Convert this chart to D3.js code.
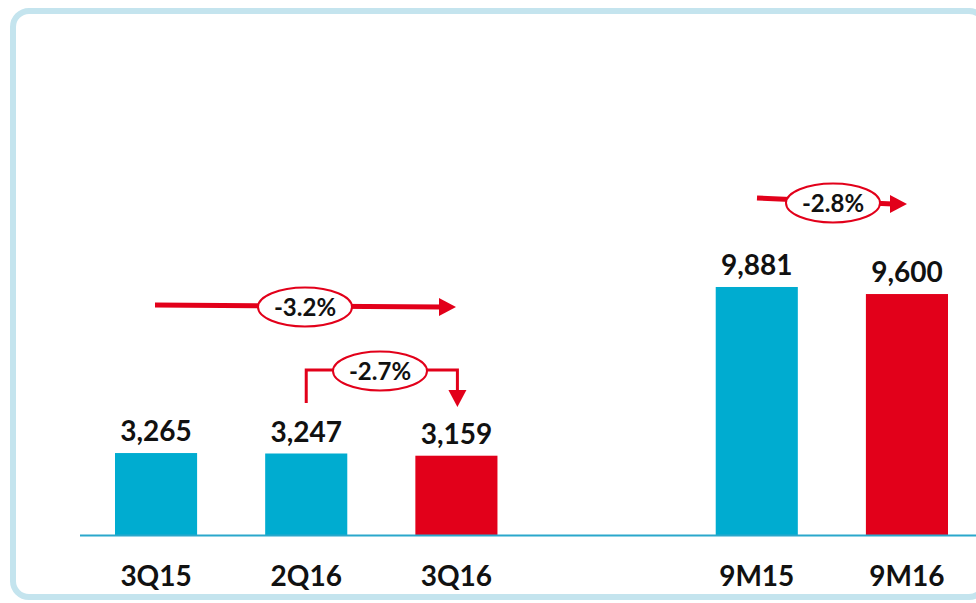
<!DOCTYPE html>
<html>
<head>
<meta charset="utf-8">
<script src="https://cdn.jsdelivr.net/npm/d3@7"></script>
<style>
  body { margin: 0; background: #fff; }
  svg { display: block; font-family: Lato, 'Open Sans', sans-serif; }
</style>
</head>
<body>
<svg id="chart" width="976" height="603"></svg>
<script>
// chart data
var categories = ['3Q15', '2Q16', '3Q16', '', '9M15', '9M16']
var values = [3265, 3247, 3159, null, 9881, 9600]
var labels = ['3,265', '3,247', '3,159', '', '9,881', '9,600']
var colors = ['#00acd0', '#00acd0', '#e2001a', null, '#00acd0', '#e2001a']
var changes = [
  {text: '-3.2%', from: '3Q15', to: '3Q16', kind: 'flat'},
  {text: '-2.7%', from: '2Q16', to: '3Q16', kind: 'elbow'},
  {text: '-2.8%', from: '9M15', to: '9M16', kind: 'flat'}
]

var svg = d3.select('#chart')
var red = '#e2001a'

// frame round the chart
svg.append('rect')
  .attr('x', 13).attr('y', 11)
  .attr('width', 972).attr('height', 586)
  .attr('rx', 16)
  .attr('fill', 'none')
  .attr('stroke', '#c4e4ee')
  .attr('stroke-width', 6)

// scales
var x = d3.scaleBand()
  .domain(categories)
  .range([115, 948])
  .paddingInner(0.4533)
  .paddingOuter(0)
var y = d3.scaleLinear()
  .domain([0, 20000])
  .range([535, 33])

var data = categories.map(function (c, i) {
  return {cat: c, value: values[i], label: labels[i], color: colors[i]}
}).filter(function (d) { return d.value !== null })

// bars
svg.append('g').selectAll('rect')
  .data(data)
  .enter().append('rect')
  .attr('x', (d) => x(d.cat))
  .attr('y', (d) => y(d.value))
  .attr('width', x.bandwidth())
  .attr('height', (d) => y(0) - y(d.value))
  .attr('fill', (d) => d.color)

// baseline
svg.append('line')
  .attr('x1', 80).attr('x2', 976)
  .attr('y1', y(0) + 0.5).attr('y2', y(0) + 0.5)
  .attr('stroke', '#2aa8cc')
  .attr('stroke-width', 2)

// value labels
svg.append('g').selectAll('text')
  .data(data)
  .enter().append('text')
  .attr('x', (d) => x(d.cat) + x.bandwidth() / 2)
  .attr('y', (d) => y(d.value) - 12)
  .attr('text-anchor', 'middle')
  .attr('font-size', 28)
  .attr('font-weight', 700)
  .attr('fill', '#111')
  .text((d) => d.label)

// category labels
svg.append('g').selectAll('text')
  .data(data)
  .enter().append('text')
  .attr('x', (d) => x(d.cat) + x.bandwidth() / 2)
  .attr('y', 586)
  .attr('text-anchor', 'middle')
  .attr('font-size', 28)
  .attr('font-weight', 700)
  .attr('fill', '#111')
  .text((d) => d.cat)

function cx (c) { return x(c) + x.bandwidth() / 2 }

function arrowHead (g, tipX, tipY, dir, len, half) {
  var pts
  if (dir === 'right') pts = [[tipX, tipY], [tipX - len, tipY - half], [tipX - len, tipY + half]]
  else pts = [[tipX, tipY], [tipX - half, tipY - len], [tipX + half, tipY - len]]
  g.append('path')
    .attr('d', d3.line()(pts) + 'Z')
    .attr('fill', red)
}

function badge (g, bx, by, text) {
  g.append('ellipse')
    .attr('cx', bx).attr('cy', by)
    .attr('rx', 47).attr('ry', 19.5)
    .attr('fill', '#fff')
    .attr('stroke', red)
    .attr('stroke-width', 2)
  g.append('text')
    .attr('x', bx).attr('y', by + 8.5)
    .attr('text-anchor', 'middle')
    .attr('font-size', 24)
    .attr('font-weight', 700)
    .attr('fill', '#111')
    .text(text)
}

// change arrows
changes.forEach(function (c) {
  var g = svg.append('g')
  if (c.kind === 'flat') {
    var first = c.from === '3Q15'
    var x1 = first ? 155 : 757
    var tipX = first ? 456 : 907
    var ly = first ? 305 : 198
    var drop = first ? 2 : 6
    g.append('line')
      .attr('x1', x1).attr('y1', ly)
      .attr('x2', tipX - 14).attr('y2', ly + drop)
      .attr('stroke', red)
      .attr('stroke-width', 5)
    arrowHead(g, tipX, ly + drop, 'right', 17, 9)
    badge(g, first ? 305 : 833, ly + drop / 2 + (first ? 1 : 2), c.text)
  } else {
    var sx = cx(c.from)
    var ex = cx(c.to) + 1
    var hy = 370
    g.append('path')
      .attr('d', d3.line()([[sx, 403], [sx, hy], [ex, hy], [ex, 391]]))
      .attr('fill', 'none')
      .attr('stroke', red)
      .attr('stroke-width', 3)
    arrowHead(g, ex, 407, 'down', 17, 9)
    badge(g, 380, hy + 1, c.text)
  }
})
</script>
</body>
</html>
